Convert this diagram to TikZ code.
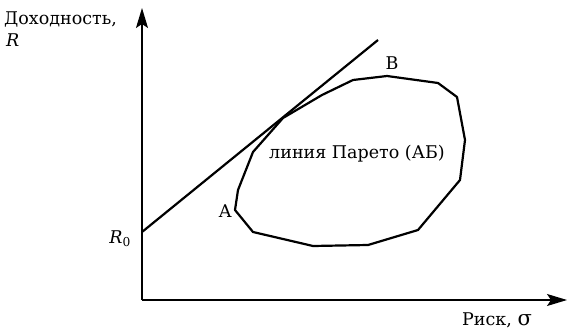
\documentclass[tikz,border=0pt]{standalone}
\usepackage{fontspec}
\setmainfont{DejaVu Serif}
\usetikzlibrary{arrows.meta}
\begin{document}
\begin{tikzpicture}[x=1pt,y=-1pt,
  axis/.style={line width=1.3pt,-{Stealth[length=20pt,width=12pt,inset=4pt]}},
  curve/.style={line width=2.2pt,line join=round},
  lbl/.style={font=\fontsize{17.5}{20}\selectfont,inner sep=0pt}]
\useasboundingbox (0,0) rectangle (569,331);
\coordinate (O) at (142,300);
\coordinate (Ytip) at (142,8);
\coordinate (Xtip) at (567,300);
\draw[axis] (O) -- (Ytip);
\draw[axis] (O) -- (Xtip);
\coordinate (R0) at (142,232);
\coordinate (T) at (378,40);
\draw[curve] (R0) -- (T);
\draw[curve] (283,118) -- (322,95) -- (353,80) -- (387,76) -- (438,83) -- (457,97) -- (465,140) -- (460,180) -- (418,230) -- (368,245) -- (313,246) -- (253,232) -- (235,210) -- (238,190) -- (253,152) -- cycle;
\node[lbl,anchor=base west] (ylab) at (4,25) {Доходность,};
\node[lbl,anchor=base west] (ylabR) at (6,47) {\itshape R};
\node[lbl,anchor=base east] (r0) at (131,243) {\itshape R\textsubscript{\upshape 0}};
\node[lbl,anchor=base] (B) at (392,70) {В};
\node[lbl,anchor=base east] (A) at (232,217) {А};
\node[lbl,anchor=base] (par) at (357,158) {линия Парето (АБ)};
\node[lbl,anchor=base west] (xlab) at (462,325) {Риск, \fontsize{21}{21}\selectfont σ};
\end{tikzpicture}
\end{document}
